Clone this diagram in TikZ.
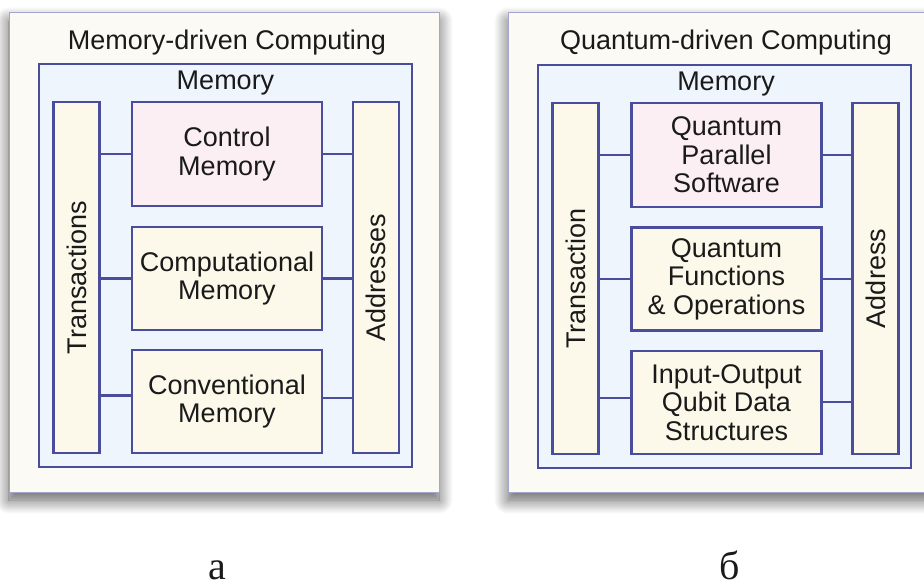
\documentclass[tikz,border=0pt]{standalone}
\usepackage{fontspec}
\setmainfont{Liberation Sans}
\newfontfamily\captionserif{Liberation Serif}
\usetikzlibrary{shadows.blur}

\definecolor{panelfill}{HTML}{FBFAF4}
\definecolor{panelline}{HTML}{A4A6CC}
\definecolor{memfill}{HTML}{EEF5FC}
\definecolor{edge}{HTML}{4A4D9C}
\definecolor{pinkfill}{HTML}{FCEFF4}
\definecolor{creamfill}{HTML}{FDF9EA}
\definecolor{ink}{HTML}{1A1A1A}

\newcommand\boxfont{\fontsize{27}{28.5}\selectfont}
\newcommand\capfont{\captionserif\fontsize{40}{42}\selectfont}

\begin{document}
\begin{tikzpicture}[x=1pt,y=-1pt,
  panel/.style={draw=panelline, line width=1pt, fill=panelfill, inner sep=0pt,
    minimum width=430pt, minimum height=479pt,
    blur shadow={shadow xshift=0pt, shadow yshift=-8pt, shadow blur radius=14pt,
      shadow blur steps=16, shadow opacity=65}},
  membox/.style={draw=edge, line width=2.1pt, fill=memfill, inner sep=0pt,
    minimum width=373pt, minimum height=403pt},
  bar/.style={draw=edge, line width=2.1pt, fill=creamfill, inner sep=0pt,
    minimum width=46pt, minimum height=351pt},
  unit/.style={draw=edge, line width=2.1pt, fill=creamfill, inner sep=0pt,
    minimum width=190pt, minimum height=103pt, align=center, font=\boxfont,
    text=ink},
  topunit/.style={unit, fill=pinkfill, minimum height=104pt},
  txt/.style={font=\boxfont, inner sep=0pt, text=ink},
  vtxt/.style={txt, rotate=90},
  wire/.style={draw=edge, line width=2.1pt},
  caption/.style={font=\capfont, inner sep=0pt, anchor=base, text=ink}
]
\useasboundingbox (0,0) rectangle (924,585);

% ---------- left panel: memory-driven computing ----------
\node[panel] (pa) at (224,252.5) {};
\node[txt, anchor=base] (pat) at (227,50) {Memory-driven Computing};
\node[membox] (ma) at (225.5,265.5) {};
\node[txt, anchor=base] (mat) at (225.5,90) {Memory};
\node[bar] (ta) at (76.5,277.5) {};
\node[vtxt] (tat) at (ta.center) {Transactions};
\node[bar] (aa) at (376,277.5) {};
\node[vtxt] (aat) at (aa.center) {Addresses};
\node[topunit] (a1) at (227,154) {Control\\Memory};
\node[unit] (a2) at (227,278.5) {Computational\\Memory};
\node[unit] (a3) at (227,401.5) {Conventional\\Memory};

\draw[wire] (a1.west) -- (a1.west -| ta.east);
\draw[wire] (a1.east) -- (a1.east -| aa.west);
\draw[wire] (a2.west) -- (a2.west -| ta.east);
\draw[wire] (a2.east) -- (a2.east -| aa.west);
\coordinate (a3l) at ([yshift=6pt]a3.west);
\coordinate (a3r) at ([yshift=3.5pt]a3.east);
\draw[wire] (a3l) -- (a3l -| ta.east);
\draw[wire] (a3r) -- (a3r -| aa.west);

% ---------- right panel: quantum-driven computing ----------
\node[panel] (pb) at (723,252.5) {};
\node[txt, anchor=base] (pbt) at (726,50) {Quantum-driven Computing};
\node[membox] (mb) at (724.5,266.5) {};
\node[txt, anchor=base] (mbt) at (726,91) {Memory};
\node[bar] (tb) at (575.5,278.5) {};
\node[vtxt] (tbt) at (tb.center) {Transaction};
\node[bar] (ab) at (875.5,278.5) {};
\node[vtxt] (abt) at (ab.center) {Address};
\node[topunit] (b1) at (726.5,155) {Quantum\\Parallel\\Software};
\node[unit] (b2) at (726.5,279) {Quantum\\Functions\\\& Operations};
\node[unit] (b3) at (726.5,402.5) {Input-Output\\Qubit Data\\Structures};

\draw[wire] (b1.west) -- (b1.west -| tb.east);
\draw[wire] (b1.east) -- (b1.east -| ab.west);
\draw[wire] (b2.west) -- (b2.west -| tb.east);
\draw[wire] (b2.east) -- (b2.east -| ab.west);
\coordinate (b3l) at ([yshift=4.5pt]b3.west);
\coordinate (b3r) at ([yshift=0.5pt]b3.east);
\draw[wire] (b3l) -- (b3l -| tb.east);
\draw[wire] (b3r) -- (b3r -| ab.west);

% ---------- captions ----------
\node[caption] (ca) at (217,579) {а};
\node[caption] (cb) at (730,579) {б};
\end{tikzpicture}
\end{document}
